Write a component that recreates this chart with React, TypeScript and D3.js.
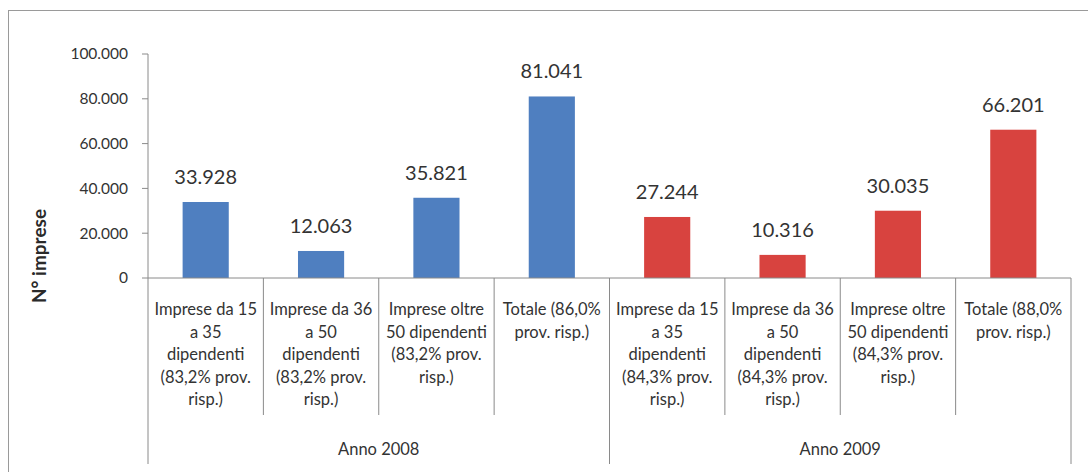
import React from "react";
import * as d3 from "d3";

// data
const groups = ["Anno 2008", "Anno 2009"];
const values2008 = [33928, 12063, 35821, 81041];
const values2009 = [27244, 10316, 30035, 66201];
const labels2008 = [
  ["Imprese da 15", "a 35", "dipendenti", "(83,2% prov.", "risp.)"],
  ["Imprese da 36", "a 50", "dipendenti", "(83,2% prov.", "risp.)"],
  ["Imprese oltre", "50 dipendenti", "(83,2% prov.", "risp.)"],
  ["Totale (86,0%", "prov. risp.)"],
];
const labels2009 = [
  ["Imprese da 15", "a 35", "dipendenti", "(84,3% prov.", "risp.)"],
  ["Imprese da 36", "a 50", "dipendenti", "(84,3% prov.", "risp.)"],
  ["Imprese oltre", "50 dipendenti", "(84,3% prov.", "risp.)"],
  ["Totale (88,0%", "prov. risp.)"],
];
const yTicks = [0, 20000, 40000, 60000, 80000, 100000];
const colors = ["#4f7fc0", "#d8433f"];

const width = 1088;
const height = 475;
const font = "Lato, 'Open Sans', sans-serif";
const textColor = "#333";
const lineColor = "#8a8a8a";

const itFormat = d3.formatLocale({
  decimal: ",",
  thousands: ".",
  grouping: [3],
  currency: ["", "€"],
}).format(",d");

export default function App() {
  const margin = { left: 148, right: 17, top: 54, axis: 278 };

  // flat list of bars
  const bars = [
    ...values2008.map((v, i) => ({ key: "a" + i, value: v, label: labels2008[i], group: 0 })),
    ...values2009.map((v, i) => ({ key: "b" + i, value: v, label: labels2009[i], group: 1 })),
  ];

  const x = d3.scaleBand()
    .domain(bars.map((d) => d.key))
    .range([margin.left, width - margin.right])
    .paddingInner(0)
    .paddingOuter(0);

  const y = d3.scaleLinear()
    .domain([0, 100000])
    .range([margin.axis, margin.top]);

  const bw = x.bandwidth();
  const barW = bw * 0.4;
  const xEnd = width - margin.right;

  // group boundaries (first, middle, last)
  const groupEdges = [margin.left, x(bars[4].key), xEnd];

  return (
    <svg
      width={width}
      height={height}
      style={{ position: "absolute", left: 0, top: 0, background: "#fff" }}
      fontFamily={font}
    >
      {/* scan frame */}
      <line x1={8} x2={width} y1={10.5} y2={10.5} stroke="#9a9a9a" />
      <line x1={8.5} x2={8.5} y1={10} y2={472} stroke="#9a9a9a" />

      {/* y axis */}
      <line x1={margin.left} x2={margin.left} y1={y(100000)} y2={margin.axis} stroke={lineColor} />
      {yTicks.map((t) => (
        <g key={t}>
          <line x1={margin.left - 6} x2={margin.left} y1={y(t)} y2={y(t)} stroke={lineColor} />
          <text
            x={128}
            y={y(t)}
            dy="0.35em"
            textAnchor="end"
            fontSize={15.5}
            fill={textColor}
          >
            {itFormat(t)}
          </text>
        </g>
      ))}
      <text
        transform={`translate(46, 256) rotate(-90)`}
        textAnchor="middle"
        fontSize={19}
        fontWeight="bold"
        fill="#2a2a2a"
      >
        N° imprese
      </text>

      {/* bars and value labels */}
      {bars.map((d) => {
        const cx = x(d.key) + bw / 2;
        return (
          <g key={d.key}>
            <rect
              x={cx - barW / 2}
              y={y(d.value)}
              width={barW}
              height={margin.axis - y(d.value)}
              fill={colors[d.group]}
            />
            <text
              x={cx}
              y={y(d.value) - 18}
              textAnchor="middle"
              fontSize={20}
              fill={textColor}
            >
              {itFormat(d.value)}
            </text>
          </g>
        );
      })}

      {/* category axis */}
      <line x1={margin.left} x2={xEnd} y1={margin.axis} y2={margin.axis} stroke={lineColor} />
      {bars.map((d, i) =>
        i === 0 || i === 4 ? null : (
          <line
            key={"sep" + d.key}
            x1={x(d.key)}
            x2={x(d.key)}
            y1={margin.axis}
            y2={415}
            stroke={lineColor}
          />
        )
      )}
      {groupEdges.map((gx, i) => (
        <line key={"g" + i} x1={gx} x2={gx} y1={margin.axis} y2={464} stroke={lineColor} />
      ))}

      {bars.map((d) => (
        <text
          key={"lbl" + d.key}
          x={x(d.key) + bw / 2}
          y={315}
          textAnchor="middle"
          fontSize={16.5}
          fill={textColor}
        >
          {d.label.map((ln, j) => (
            <tspan key={j} x={x(d.key) + bw / 2} dy={j === 0 ? 0 : 22.5}>
              {ln}
            </tspan>
          ))}
        </text>
      ))}

      {groups.map((g, i) => (
        <text
          key={g}
          x={(groupEdges[i] + groupEdges[i + 1]) / 2}
          y={455}
          textAnchor="middle"
          fontSize={16.5}
          fill={textColor}
        >
          {g}
        </text>
      ))}
    </svg>
  );
}
